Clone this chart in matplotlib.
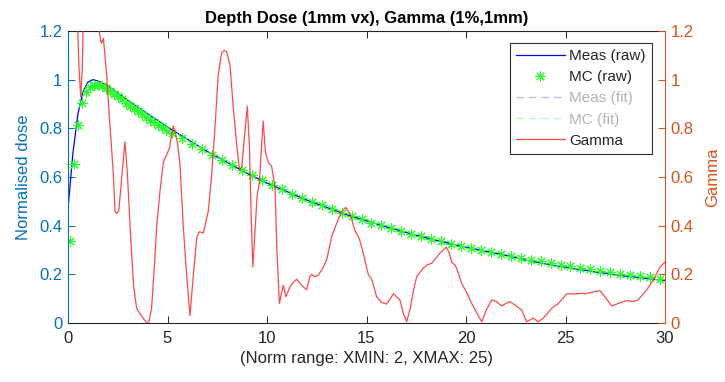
import matplotlib
matplotlib.use("Agg")
import matplotlib.pyplot as plt
from matplotlib.lines import Line2D

plt.rcParams['font.family'] = ['Liberation Sans', 'DejaVu Sans']

# ---- measured depth dose (raw) ----
meas_depth = [0, 0.25, 0.5, 0.75, 1.0, 1.25, 1.5, 2, 2.5, 3, 4, 5, 6, 7, 8, 9, 10,
              11, 12, 13, 14, 15, 16, 17, 18, 19, 20, 21, 22, 23, 24, 25, 26,
              27, 28, 29, 30]
meas_dose = [0.47, 0.70, 0.86, 0.95, 0.99, 1.0, 0.995, 0.975, 0.945, 0.915, 0.86,
             0.805, 0.755, 0.705, 0.66, 0.615, 0.575, 0.54, 0.505, 0.475, 0.445,
             0.42, 0.395, 0.372, 0.35, 0.33, 0.312, 0.295, 0.278, 0.258, 0.243,
             0.229, 0.216, 0.204, 0.193, 0.183, 0.175]

# ---- Monte Carlo depth dose (raw) ----
mc_depth = [0.1, 0.3, 0.5, 0.7, 0.9, 1.1, 1.3, 1.5, 1.7, 1.9, 2.1, 2.3, 2.5, 2.7,
            2.9, 3.1, 3.3, 3.5, 3.7, 3.9, 4.1, 4.3, 4.5, 4.7, 4.9,
            5.25, 5.75, 6.25, 6.75, 7.25, 7.75, 8.25, 8.75, 9.25, 9.75, 10.25,
            10.75, 11.25, 11.75, 12.25, 12.75, 13.25, 13.75, 14.25, 14.75,
            15.25, 15.75, 16.25, 16.75, 17.25, 17.75, 18.25, 18.75, 19.25,
            19.75, 20.25, 20.75, 21.25, 21.75, 22.25, 22.75, 23.25, 23.75,
            24.25, 24.75, 25.25, 25.75, 26.25, 26.75, 27.25, 27.75, 28.25,
            28.75, 29.25, 29.75]
mc_dose = [0.335, 0.655, 0.815, 0.905, 0.950, 0.970, 0.978, 0.978, 0.972, 0.965,
           0.955, 0.943, 0.932, 0.920, 0.905, 0.893, 0.882, 0.870, 0.858, 0.846,
           0.835, 0.824, 0.814, 0.804, 0.795,
           0.781, 0.759, 0.737, 0.714, 0.692, 0.670, 0.649, 0.628, 0.607, 0.586,
           0.567, 0.549, 0.531, 0.514, 0.498, 0.483, 0.468, 0.453, 0.439, 0.426,
           0.413, 0.401, 0.389, 0.378, 0.367, 0.356, 0.345, 0.335, 0.326, 0.317,
           0.308, 0.299, 0.291, 0.283, 0.275, 0.267, 0.260, 0.253, 0.246, 0.240,
           0.233, 0.227, 0.221, 0.215, 0.209, 0.203, 0.198, 0.192, 0.187, 0.182]

# ---- gamma index (1%, 1mm) ----
gamma_depth = [0.00, 0.40, 0.55, 0.64, 0.72, 0.80, 1.20, 1.50, 1.57, 1.64, 1.69,
               1.78, 1.94, 2.11, 2.28, 2.36, 2.45, 2.55, 2.70, 2.86, 2.98, 3.15,
               3.30, 3.45, 3.60, 3.78, 3.95, 4.05, 4.20, 4.33, 4.46, 4.62, 4.79,
               4.95, 5.10, 5.20, 5.29, 5.40, 5.50, 5.63, 5.79, 5.96, 6.13, 6.30,
               6.47, 6.60, 6.80, 7.05, 7.22, 7.39, 7.55, 7.72, 7.85, 7.97, 8.14,
               8.31, 8.48, 8.62, 8.73, 8.85, 9.01, 9.12, 9.20, 9.29, 9.40, 9.50,
               9.62, 9.72, 9.81, 9.92, 10.07, 10.23, 10.40, 10.50, 10.62, 10.72,
               10.82, 10.95, 11.16, 11.30, 11.49, 11.75, 11.99, 12.15, 12.25,
               12.40, 12.58, 12.80, 13.00, 13.25, 13.50, 13.75, 13.95, 14.17,
               14.42, 14.62, 14.80, 15.00, 15.09, 15.26, 15.51, 15.75, 16.00,
               16.20, 16.35, 16.50, 16.68, 16.85, 17.02, 17.20, 17.35, 17.52,
               17.85, 18.03, 18.27, 18.69, 19.00, 19.15, 19.28, 19.45, 19.53,
               19.78, 20.00, 20.29, 20.55, 20.79, 21.00, 21.29, 21.54, 21.79,
               22.00, 22.21, 22.46, 22.80, 23.05, 23.38, 23.63, 23.88, 24.10,
               24.30, 24.64, 25.06, 25.48, 25.81, 25.98, 26.40, 26.73, 26.98,
               27.32, 27.74, 28.07, 28.40, 28.65, 29.08, 29.41, 29.75, 30.00]
gamma_val = [1.60, 1.45, 1.05, 0.93, 1.05, 1.40, 1.60, 1.30, 1.20, 1.16, 1.15,
             1.17, 1.02, 0.81, 0.61, 0.46, 0.45, 0.46, 0.60, 0.745, 0.62, 0.35,
             0.15, 0.06, 0.04, 0.02, 0.00, 0.00, 0.06, 0.22, 0.40, 0.54, 0.66,
             0.69, 0.72, 0.77, 0.81, 0.78, 0.74, 0.65, 0.40, 0.20, 0.03, 0.20,
             0.35, 0.375, 0.37, 0.46, 0.61, 0.81, 1.02, 1.11, 1.12, 1.115, 1.06,
             0.88, 0.73, 0.63, 0.64, 0.75, 0.89, 0.72, 0.45, 0.23, 0.38, 0.52,
             0.58, 0.72, 0.83, 0.70, 0.66, 0.645, 0.56, 0.30, 0.08, 0.12,
             0.155, 0.108, 0.15, 0.165, 0.18, 0.155, 0.136, 0.19, 0.20,
             0.19, 0.197, 0.225, 0.26, 0.355, 0.41, 0.457, 0.475, 0.45,
             0.38, 0.35, 0.30, 0.23, 0.20, 0.18, 0.108, 0.085, 0.078,
             0.10, 0.12, 0.108, 0.095, 0.04, 0.005, 0.06, 0.13, 0.19,
             0.225, 0.238, 0.245, 0.287, 0.312, 0.29, 0.25, 0.238, 0.225,
             0.163, 0.13, 0.08, 0.04, 0.005, 0.05, 0.095, 0.088, 0.07,
             0.08, 0.088, 0.074, 0.053, 0.005, 0.02, 0.005, 0.02, 0.04,
             0.06, 0.08, 0.12, 0.12, 0.122, 0.12, 0.128, 0.133, 0.108,
             0.07, 0.083, 0.092, 0.088, 0.095, 0.136, 0.177, 0.23, 0.25]

x_ticks = [0, 5, 10, 15, 20, 25, 30]
y_ticks = [0, 0.2, 0.4, 0.6, 0.8, 1.0, 1.2]
y_tick_labels = ['0', '0.2', '0.4', '0.6', '0.8', '1', '1.2']

LEFT_C = '#0072BD'
RIGHT_C = '#D95319'
AX_C = '#262626'

fig = plt.figure(figsize=(7.25, 3.82), dpi=100)
ax = fig.add_axes([68 / 725, 1 - 323 / 382, (665 - 68) / 725, (323 - 31) / 382])
ax2 = ax.twinx()

h_meas, = ax.plot(meas_depth, meas_dose, color=(0, 0, 1), lw=0.9)
h_mc, = ax.plot(mc_depth, mc_dose, linestyle='none', marker=(8, 2, 0),
                markersize=7.5, markeredgewidth=0.75, color=(0.15, 1, 0.15))
h_gam, = ax2.plot(gamma_depth, gamma_val, color='#ff2a2a', lw=0.9, alpha=0.85)

h_meas_fit = Line2D([], [], color='#b8b8ff', lw=0.9, linestyle=(0, (6, 4)))
h_mc_fit = Line2D([], [], color='#b8ffb8', lw=0.9, linestyle=(0, (6, 4)))

for a in (ax, ax2):
    a.set_xlim(0, 30)
    a.set_ylim(0, 1.2)
    a.set_yticks(y_ticks)

ax.set_xticks(x_ticks)
ax.set_yticklabels(y_tick_labels)
ax2.set_yticklabels(y_tick_labels)

ax.tick_params(axis='x', direction='in', length=5, width=0.7, colors=AX_C,
               labelsize=12, top=True, pad=6, labelcolor=AX_C)
ax.tick_params(axis='y', direction='in', length=5, width=0.7, colors=LEFT_C,
               labelsize=12, pad=4)
ax2.tick_params(axis='y', direction='in', length=5, width=0.7, colors=RIGHT_C,
                labelsize=12, pad=4)

for side in ('top', 'bottom'):
    ax.spines[side].set_color(AX_C)
    ax.spines[side].set_linewidth(0.8)
    ax2.spines[side].set_visible(False)
ax.spines['left'].set_color(LEFT_C)
ax.spines['left'].set_linewidth(0.8)
ax.spines['right'].set_visible(False)
ax2.spines['left'].set_visible(False)
ax2.spines['right'].set_color(RIGHT_C)
ax2.spines['right'].set_linewidth(0.8)

ax.set_ylabel('Normalised dose', color=LEFT_C, fontsize=12, labelpad=6)
ax2.set_ylabel('Gamma', color=RIGHT_C, fontsize=12, labelpad=8)
ax.set_xlabel('(Norm range: XMIN: 2, XMAX: 25)', color=AX_C, fontsize=12, labelpad=3)
ax.set_title('Depth Dose (1mm vx), Gamma (1%,1mm)', fontsize=12, fontweight='bold',
             color='black', pad=6)

leg = ax2.legend([h_meas, h_mc, h_meas_fit, h_mc_fit, h_gam],
                 ['Meas (raw)', 'MC (raw)', 'Meas (fit)', 'MC (fit)', 'Gamma'],
                 loc='upper right', bbox_to_anchor=(652 / 725, 1 - 43 / 382),
                 bbox_transform=fig.transFigure, fontsize=11, frameon=True,
                 fancybox=False, edgecolor='#333333', framealpha=1,
                 handlelength=3.2, handletextpad=0.3, borderpad=0.4,
                 labelspacing=0.47, borderaxespad=0)
leg.get_frame().set_linewidth(0.8)
for i, t in enumerate(leg.get_texts()):
    t.set_color('#b4b4b4' if i in (2, 3) else AX_C)

fig.savefig('out.png', dpi=100)
